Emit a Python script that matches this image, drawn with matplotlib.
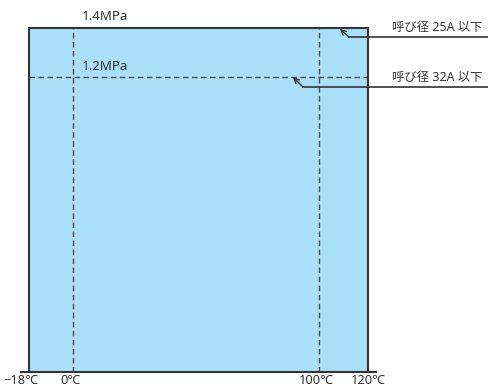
import matplotlib
matplotlib.use("Agg")
import matplotlib.pyplot as plt
from matplotlib.patches import Rectangle

plt.rcParams['font.family'] = ['Noto Sans', 'Noto Sans CJK JP', 'DejaVu Sans']

# temperature range (deg C) and pressure limits (MPa)
t_min, t_max = -18, 120
t_guides = [0, 100]
temp_ticks = [-18, 0, 100, 120]
temp_labels = ['\u221218\u2103', '0\u2103', '100\u2103', '120\u2103']
pressures = [1.4, 1.2]
pressure_labels = ['1.4MPa', '1.2MPa']
size_labels = ['呼び径 25A 以下', '呼び径 32A 以下']

fill_color = '#a9dff9'
edge_color = '#333333'
dash_color = '#4a4a4a'

fig = plt.figure(figsize=(4.88, 3.87), dpi=100)
ax = fig.add_axes([0, 0, 1, 1])
ax.set_xlim(-29.67, 168.7)
ax.set_ylim(-0.061, 1.514)
ax.axis('off')

# operating area
ax.add_patch(Rectangle((t_min, 0), t_max - t_min, pressures[0],
                       facecolor=fill_color, edgecolor='none', zorder=1))
ax.plot([t_min, t_min, t_max, t_max], [0, pressures[0], pressures[0], 0],
        color=edge_color, lw=1.5, zorder=3, solid_joinstyle='miter')
ax.plot([-21, 123], [0, 0], color=edge_color, lw=1.5, zorder=3)

# guide lines
for t in t_guides:
    ax.plot([t, t], [0, pressures[0]], color=dash_color, lw=1,
            linestyle=(0, (4, 2.5)), zorder=2)
ax.plot([t_min, t_max], [pressures[1], pressures[1]], color=dash_color, lw=1,
        linestyle=(0, (4, 2.5)), zorder=2)

# pressure labels
for p, lab in zip(pressures, pressure_labels):
    ax.text(3.5, p + 0.045, lab, fontsize=9.6, color='#333333',
            ha='left', va='center')

# temperature labels
offsets = [-3, -1, -1, 0]
for t, lab, o in zip(temp_ticks, temp_labels, offsets):
    ax.text(t + o, -0.035, lab, fontsize=9.3, color='#333333',
            ha='center', va='center')

# leader lines for size labels
tips = [(108.5, 1.396), (89.4, 1.2)]
elbows = [(112.2, 1.363), (93.5, 1.160)]
for (tx, ty), (ex, ey), lab in zip(tips, elbows, size_labels):
    ax.annotate('', xy=(tx, ty), xytext=(ex, ey),
                arrowprops=dict(arrowstyle='->', color=edge_color, lw=1,
                                shrinkA=0, shrinkB=0, mutation_scale=9))
    ax.plot([ex, 168.7], [ey, ey], color=edge_color, lw=1.2)
    ax.text(129.5, ey + 0.04, lab, fontsize=8.9, color='#333333',
            ha='left', va='center')

fig.savefig('out.png', dpi=100)
